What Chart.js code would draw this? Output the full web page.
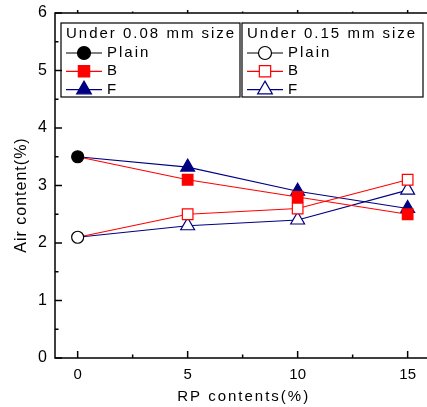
<!DOCTYPE html>
<html>
<head>
<meta charset="utf-8">
<script src="https://cdn.jsdelivr.net/npm/chart.js@4/dist/chart.umd.min.js"></script>
<style>
  html, body { margin: 0; padding: 0; background: #fff; overflow: hidden; }
  #wrap { width: 437px; height: 407px; position: relative; }
</style>
</head>
<body>
<div id="wrap"><canvas id="airChart"></canvas></div>
<script>
  const rpContents = [0, 5, 10, 15];
  const plainFine = [3.5, null, null, null];
  const bFine = [3.5, 3.1, 2.8, 2.5];
  const fFine = [3.5, 3.32, 2.9, 2.6];
  const plainCoarse = [2.1, null, null, null];
  const bCoarse = [2.1, 2.5, 2.6, 3.1];
  const fCoarse = [2.1, 2.3, 2.4, 2.92];
  const yTicks = [0, 1, 2, 3, 4, 5, 6];
  const legendTitles = ["Under 0.08 mm size", "Under 0.15 mm size"];
  const seriesNames = ["Plain", "B", "F"];
  const xTitle = "RP contents(%)";
  const yTitle = "Air content(%)";

  const RED = "#ff0000";
  const NAVY = "#000080";
  const FONT = "'Liberation Sans', Arial, sans-serif";

  const points = (values) => rpContents.map((x, i) => ({ x, y: values[i] }));

  // the 0 % point sits under the Plain circle, so B and F hide their own marker there
  const series = (label, values, color, style, filled, radius, hideFirst) => ({
    label,
    data: points(values),
    borderColor: color,
    borderWidth: 1.2,
    pointStyle: style,
    pointRadius: values.map((v, i) => (hideFirst && i === 0 ? 0 : radius)),
    pointBorderColor: color,
    pointBackgroundColor: filled ? color : "#fff",
    pointBorderWidth: 1.2,
    tension: 0
  });

  const datasets = [
    series("Plain 0.08", plainFine, "#000", "circle", true, 6, false),
    series("Plain 0.15", plainCoarse, "#000", "circle", false, 6, false),
    series("B 0.08", bFine, RED, "rect", true, 7.5, true),
    series("B 0.15", bCoarse, RED, "rect", false, 7.5, true),
    series("F 0.08", fFine, NAVY, "triangle", true, 8, true),
    series("F 0.15", fCoarse, NAVY, "triangle", false, 8, true)
  ];

  const frameAndTicks = {
    id: "frameAndTicks",
    afterDatasetsDraw(chart) {
      const { ctx, chartArea, scales } = chart;
      const { left, top, right, bottom } = chartArea;
      ctx.save();
      ctx.strokeStyle = "#000";
      ctx.lineWidth = 1.5;
      ctx.beginPath();
      ctx.moveTo(right + 5, top);
      ctx.lineTo(left, top);
      ctx.lineTo(left, bottom);
      ctx.lineTo(right + 5, bottom);
      ctx.stroke();

      for (let v = 0; v <= 6; v += 0.5) {
        const py = scales.y.getPixelForValue(v);
        const len = Number.isInteger(v) ? 7 : 3.5;
        ctx.beginPath();
        ctx.moveTo(left, py);
        ctx.lineTo(left + len, py);
        ctx.stroke();
      }
      for (let v = 0; v <= 15; v += 2.5) {
        const px = scales.x.getPixelForValue(v);
        const major = v % 5 === 0;
        ctx.beginPath();
        ctx.moveTo(px, bottom);
        ctx.lineTo(px, bottom - (major ? 7 : 3.5));
        ctx.stroke();
        ctx.beginPath();
        ctx.moveTo(px, top);
        ctx.lineTo(px, top - (major ? 3 : 1.5));
        ctx.stroke();
      }

      // axis titles, spaced out like the original
      ctx.fillStyle = "#000";
      ctx.font = "15px " + FONT;
      ctx.letterSpacing = "2px";
      ctx.textAlign = "center";
      ctx.textBaseline = "middle";
      ctx.fillText(xTitle, (scales.x.getPixelForValue(0) + scales.x.getPixelForValue(15)) / 2 + 1, 397);
      ctx.font = "16px " + FONT;
      ctx.letterSpacing = "1px";
      ctx.translate(21.5, 195);
      ctx.rotate(-Math.PI / 2);
      ctx.fillText(yTitle, 0, 0);
      ctx.restore();
    }
  };

  const legendBoxes = {
    id: "legendBoxes",
    afterDraw(chart) {
      const { ctx, chartArea } = chart;
      const { left, top } = chartArea;
      const boxes = [
        { x: left + 6, w: 179, filled: true },
        { x: left + 187, w: 181, filled: false }
      ];
      const styles = [
        { color: "#000", style: "circle", radius: 6.5 },
        { color: RED, style: "rect", radius: 8 },
        { color: NAVY, style: "triangle", radius: 8.5 }
      ];
      ctx.save();
      boxes.forEach((box, bi) => {
        const y0 = top + 10;
        ctx.strokeStyle = "#000";
        ctx.lineWidth = 1.2;
        ctx.strokeRect(box.x, y0, box.w, 74);

        ctx.fillStyle = "#000";
        ctx.font = "15px " + FONT;
        ctx.textBaseline = "middle";
        ctx.letterSpacing = "2px";
        ctx.fillText(legendTitles[bi], box.x + 5, y0 + 11);

        styles.forEach((s, si) => {
          const cy = y0 + 30 + si * 18.3;
          const lx = box.x + 5;
          ctx.strokeStyle = s.color;
          ctx.lineWidth = 1.2;
          ctx.beginPath();
          ctx.moveTo(lx, cy);
          ctx.lineTo(lx + 36, cy);
          ctx.stroke();
          ctx.fillStyle = box.filled ? s.color : "#fff";
          ctx.strokeStyle = s.color;
          Chart.helpers.drawPoint(ctx, {
            pointStyle: s.style,
            radius: s.radius,
            rotation: 0,
            borderWidth: 1.2
          }, lx + 18, cy);
          ctx.fillStyle = "#000";
          ctx.fillText(seriesNames[si], lx + 41, cy);
        });
      });
      ctx.restore();
    }
  };

  new Chart(document.getElementById("airChart"), {
    type: "line",
    data: { datasets },
    plugins: [frameAndTicks, legendBoxes],
    options: {
      responsive: true,
      maintainAspectRatio: false,
      animation: false,
      clip: false,
      layout: { padding: { top: 13, right: 10, left: 0, bottom: 0 } },
      plugins: {
        legend: { display: false },
        tooltip: { enabled: false }
      },
      scales: {
        x: {
          type: "linear",
          min: -1.03,
          max: 15.88,
          afterFit(scale) {
            scale.height = 49;
            scale.paddingLeft = 0;
            scale.paddingRight = 0;
          },
          afterBuildTicks(scale) {
            scale.ticks = rpContents.map((value) => ({ value }));
          },
          grid: { display: false, drawTicks: false },
          border: { display: false },
          ticks: {
            color: "#000",
            padding: 8,
            font: { family: FONT, size: 15 }
          }
        },
        y: {
          min: 0,
          max: 6,
          afterFit(scale) {
            scale.width = 55;
            scale.paddingTop = 0;
            scale.paddingBottom = 0;
          },
          afterBuildTicks(scale) {
            scale.ticks = yTicks.map((value) => ({ value }));
          },
          grid: { display: false, drawTicks: false },
          border: { display: false },
          ticks: {
            color: "#000",
            padding: 8,
            font: { family: FONT, size: 16 }
          }
        }
      }
    }
  });
</script>
</body>
</html>
